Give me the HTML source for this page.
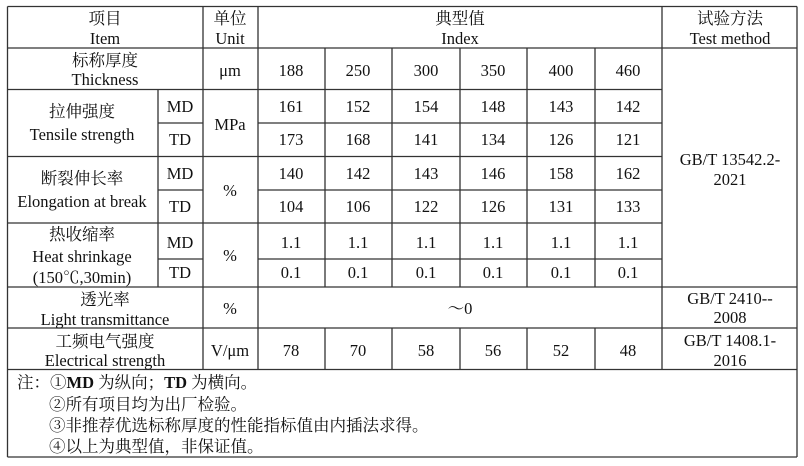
<!DOCTYPE html>
<html><head><meta charset="utf-8"><style>
html,body{margin:0;padding:0;background:#fff;width:804px;height:466px;overflow:hidden}
svg text{font-family:"Liberation Serif","Noto Serif CJK SC",serif;font-size:16.5px;fill:#111}
</style></head><body>
<svg width="804" height="466" xmlns="http://www.w3.org/2000/svg">
<g stroke="#333" stroke-width="1.3" fill="none">
<line x1="7.5" y1="6.5" x2="797" y2="6.5"/>
<line x1="7.5" y1="48" x2="797" y2="48"/>
<line x1="7.5" y1="89.5" x2="662" y2="89.5"/>
<line x1="158" y1="123" x2="203" y2="123"/><line x1="258" y1="123" x2="662" y2="123"/>
<line x1="7.5" y1="156.5" x2="662" y2="156.5"/>
<line x1="158" y1="190" x2="203" y2="190"/><line x1="258" y1="190" x2="662" y2="190"/>
<line x1="7.5" y1="223" x2="662" y2="223"/>
<line x1="158" y1="259" x2="203" y2="259"/><line x1="258" y1="259" x2="662" y2="259"/>
<line x1="7.5" y1="287" x2="797" y2="287"/>
<line x1="7.5" y1="328" x2="797" y2="328"/>
<line x1="7.5" y1="369.5" x2="797" y2="369.5"/>
<line x1="7.5" y1="457" x2="797" y2="457"/>
<line x1="7.5" y1="6.5" x2="7.5" y2="457"/>
<line x1="797" y1="6.5" x2="797" y2="457"/>
<line x1="203" y1="6.5" x2="203" y2="369.5"/>
<line x1="158" y1="89.5" x2="158" y2="287"/>
<line x1="258" y1="6.5" x2="258" y2="369.5"/>
<line x1="662" y1="6.5" x2="662" y2="369.5"/>
<line x1="325" y1="48" x2="325" y2="287"/><line x1="325" y1="328" x2="325" y2="369.5"/>
<line x1="392" y1="48" x2="392" y2="287"/><line x1="392" y1="328" x2="392" y2="369.5"/>
<line x1="460" y1="48" x2="460" y2="287"/><line x1="460" y1="328" x2="460" y2="369.5"/>
<line x1="527" y1="48" x2="527" y2="287"/><line x1="527" y1="328" x2="527" y2="369.5"/>
<line x1="595" y1="48" x2="595" y2="287"/><line x1="595" y1="328" x2="595" y2="369.5"/>
</g>
<g text-anchor="middle">
<text x="105" y="24">项目</text><text x="105" y="44">Item</text>
<text x="230" y="24">单位</text><text x="230" y="44">Unit</text>
<text x="460" y="24">典型值</text><text x="460" y="44">Index</text>
<text x="730" y="24">试验方法</text><text x="730" y="44">Test method</text>

<text x="105" y="66">标称厚度</text><text x="105" y="85">Thickness</text>
<text x="230" y="76">μm</text>
<text x="291" y="76">188</text><text x="358" y="76">250</text><text x="426" y="76">300</text><text x="493" y="76">350</text><text x="561" y="76">400</text><text x="628" y="76">460</text>

<text x="82" y="117">拉伸强度</text><text x="82" y="140">Tensile strength</text>
<text x="180" y="112">MD</text><text x="180" y="145">TD</text>
<text x="230" y="130">MPa</text>
<text x="291" y="112">161</text><text x="358" y="112">152</text><text x="426" y="112">154</text><text x="493" y="112">148</text><text x="561" y="112">143</text><text x="628" y="112">142</text>
<text x="291" y="145">173</text><text x="358" y="145">168</text><text x="426" y="145">141</text><text x="493" y="145">134</text><text x="561" y="145">126</text><text x="628" y="145">121</text>

<text x="82" y="184">断裂伸长率</text><text x="82" y="207">Elongation at break</text>
<text x="180" y="179">MD</text><text x="180" y="212">TD</text>
<text x="230" y="196">%</text>
<text x="291" y="179">140</text><text x="358" y="179">142</text><text x="426" y="179">143</text><text x="493" y="179">146</text><text x="561" y="179">158</text><text x="628" y="179">162</text>
<text x="291" y="212">104</text><text x="358" y="212">106</text><text x="426" y="212">122</text><text x="493" y="212">126</text><text x="561" y="212">131</text><text x="628" y="212">133</text>

<text x="730" y="165">GB/T 13542.2-</text><text x="730" y="185">2021</text>

<text x="82" y="240">热收缩率</text><text x="82" y="262">Heat shrinkage</text><text x="82" y="283">(150℃,30min)</text>
<text x="180" y="248">MD</text><text x="180" y="278">TD</text>
<text x="230" y="261">%</text>
<text x="291" y="248">1.1</text><text x="358" y="248">1.1</text><text x="426" y="248">1.1</text><text x="493" y="248">1.1</text><text x="561" y="248">1.1</text><text x="628" y="248">1.1</text>
<text x="291" y="278">0.1</text><text x="358" y="278">0.1</text><text x="426" y="278">0.1</text><text x="493" y="278">0.1</text><text x="561" y="278">0.1</text><text x="628" y="278">0.1</text>

<text x="105" y="305">透光率</text><text x="105" y="325">Light transmittance</text>
<text x="230" y="314">%</text>
<text x="460" y="314">～0</text>
<text x="730" y="304">GB/T 2410--</text><text x="730" y="323">2008</text>

<text x="105" y="347">工频电气强度</text><text x="105" y="366">Electrical strength</text>
<text x="230" y="356">V/μm</text>
<text x="291" y="356">78</text><text x="358" y="356">70</text><text x="426" y="356">58</text><text x="493" y="356">56</text><text x="561" y="356">52</text><text x="628" y="356">48</text>
<text x="730" y="346">GB/T 1408.1-</text><text x="730" y="366">2016</text>
</g>
<text x="17" y="388">注：①<tspan font-weight="bold">MD</tspan> 为纵向；<tspan font-weight="bold">TD</tspan> 为横向。</text>
<text x="49" y="410">②所有项目均为出厂检验。</text>
<text x="49" y="431">③非推荐优选标称厚度的性能指标值由内插法求得。</text>
<text x="49" y="452">④以上为典型值，非保证值。</text>
</svg>
</body></html>
